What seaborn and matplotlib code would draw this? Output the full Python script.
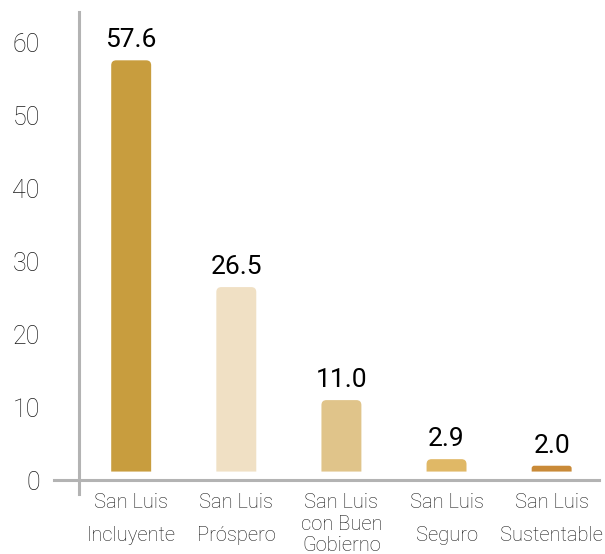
import matplotlib
matplotlib.use("Agg")
import matplotlib.pyplot as plt
import seaborn as sns
import pandas as pd
from matplotlib.path import Path
from matplotlib.patches import PathPatch

# data
categories = ["San Luis\nIncluyente", "San Luis\nPróspero", "San Luis\ncon Buen\nGobierno",
              "San Luis\nSeguro", "San Luis\nSustentable"]
values = [57.6, 26.5, 11.0, 2.9, 2.0]
colors = ["#C89D3E", "#F0E0C4", "#E0C48A", "#E0B866", "#C98A38"]
y_ticks = [0, 10, 20, 30, 40, 50, 60]

BASE = 1.2  # bars float slightly above the axis line in the original
GREY = "#B3B3B3"
TXT = "#1a1a1a"

df = pd.DataFrame({"cat": categories, "val": values})

sns.set_style("white")
plt.rcParams["font.family"] = ["Roboto", "DejaVu Sans"]
plt.rcParams["font.weight"] = "light"

fig, ax = plt.subplots(figsize=(6.05, 5.54), dpi=100)
fig.subplots_adjust(left=0.09, right=0.99, top=0.978, bottom=0.108)

sns.barplot(data=df, x="cat", y="val", hue="cat", palette=colors, legend=False,
            width=0.38, ax=ax)

ax.set_xlim(-0.73, 4.45)
ax.set_ylim(-1.9, 64.2)


def rounded_top(x, w, y0, y1, rx, ry):
    verts = [(x, y0), (x, y1 - ry), (x, y1), (x + rx, y1), (x + w - rx, y1),
             (x + w, y1), (x + w, y1 - ry), (x + w, y0), (x, y0)]
    codes = [Path.MOVETO, Path.LINETO, Path.CURVE3, Path.CURVE3, Path.LINETO,
             Path.CURVE3, Path.CURVE3, Path.LINETO, Path.CLOSEPOLY]
    return Path(verts, codes)


# swap the plain bars for ones with rounded tops
fig.canvas.draw()
px_x = ax.transData.transform((1, 0))[0] - ax.transData.transform((0, 0))[0]
px_y = ax.transData.transform((0, 1))[1] - ax.transData.transform((0, 0))[1]
for p, val, col in zip(list(ax.patches), values, colors):
    x, w = p.get_x(), p.get_width()
    p.remove()
    h = val - BASE
    r_px = min(5.0, 0.45 * h * px_y)
    path = rounded_top(x, w, BASE, val, r_px / px_x, r_px / px_y)
    ax.add_patch(PathPatch(path, facecolor=col, edgecolor="none", zorder=2))
    ax.text(x + w / 2, val + 1.1, f"{val:.1f}", ha="center", va="bottom",
            fontsize=19, fontweight="normal", color="black")

# axes styling
sns.despine(ax=ax, top=True, right=True)
ax.spines["left"].set_position(("data", -0.5))
ax.spines["bottom"].set_position(("data", 0))
for s in ["left", "bottom"]:
    ax.spines[s].set_color(GREY)
    ax.spines[s].set_linewidth(2.2)

ax.set_yticks(y_ticks)
ax.tick_params(axis="y", length=0, pad=28, labelsize=18, labelcolor=TXT)
ax.tick_params(axis="x", length=0)
ax.set_xlabel("")
ax.set_ylabel("")

ax.set_xticks(range(len(categories)))
ax.set_xticklabels([])
for i, lab in enumerate(categories):
    n = lab.count("\n")
    ax.annotate(lab, xy=(i, 0), xycoords="data", xytext=(0, -9), textcoords="offset points",
                ha="center", va="top", fontsize=14.5, color=TXT,
                linespacing=1.95 if n == 1 else 1.18)

plt.savefig("out.png", dpi=100)
plt.close()
